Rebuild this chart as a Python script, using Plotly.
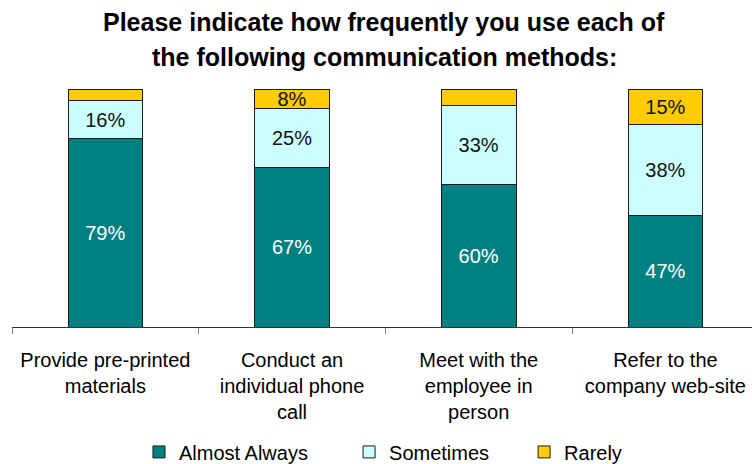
import plotly.graph_objects as go

categories = [
    "Provide pre-printed<br>materials",
    "Conduct an<br>individual phone<br>call",
    "Meet with the<br>employee in<br>person",
    "Refer to the<br>company web-site",
]
almost_always = [79, 67, 60, 47]
sometimes = [16, 25, 33, 38]
rarely = [5, 8, 7, 15]
rarely_labels = ["", "8%", "", "15%"]

FONT = "Liberation Sans, Arial, sans-serif"
EDGE = dict(color="#1a1a1a", width=1)

series = [
    ("Almost Always", almost_always, [f"{v}%" for v in almost_always], "#008080", "white", "legend"),
    ("Sometimes", sometimes, [f"{v}%" for v in sometimes], "#CCFFFF", "#111111", "legend2"),
    ("Rarely", rarely, rarely_labels, "#FFCC00", "#111111", "legend3"),
]

fig = go.Figure()
for name, values, labels, color, text_color, legend_id in series:
    fig.add_trace(go.Bar(
        name=name, x=categories, y=values,
        marker=dict(color=color, line=EDGE),
        text=labels, textposition="inside", insidetextanchor="middle",
        textfont=dict(color=text_color, size=20, family=FONT),
        legend=legend_id,
    ))

title_lines = [
    ("Please indicate how frequently you use each of", 1.2815),
    ("the following communication methods:", 1.134),
]
for line, ypos in title_lines:
    fig.add_annotation(
        text=f"<b>{line}</b>", x=0.503, y=ypos, xref="paper", yref="paper",
        xanchor="center", yanchor="middle", showarrow=False,
        font=dict(size=25, color="#000000", family=FONT),
    )

legend_style = dict(
    orientation="h", xanchor="left", yref="container", y=0.026, yanchor="middle",
    font=dict(size=20, family=FONT, color="#000000"),
    bgcolor="rgba(0,0,0,0)",
)

fig.update_layout(
    barmode="stack",
    bargap=0.6,
    width=752, height=464,
    margin=dict(l=12, r=0, t=89, b=137),
    paper_bgcolor="white", plot_bgcolor="white",
    font=dict(family=FONT, size=20, color="#000000"),
    uniformtext=dict(minsize=20, mode="show"),
    showlegend=True,
    legend=dict(x=0.1716, **legend_style),
    legend2=dict(x=0.4555, **legend_style),
    legend3=dict(x=0.692, **legend_style),
)
fig.update_xaxes(
    range=[-0.5, 3.464], showline=True, linecolor="#333333", linewidth=1,
    ticks="outside", tickson="boundaries", ticklen=6, tickcolor="#888888",
    ticklabelstandoff=15,
    showgrid=False, tickfont=dict(size=20, family=FONT, color="#000000"),
)
fig.update_yaxes(range=[0, 100], visible=False, showgrid=False)

fig.write_html("out.html")
